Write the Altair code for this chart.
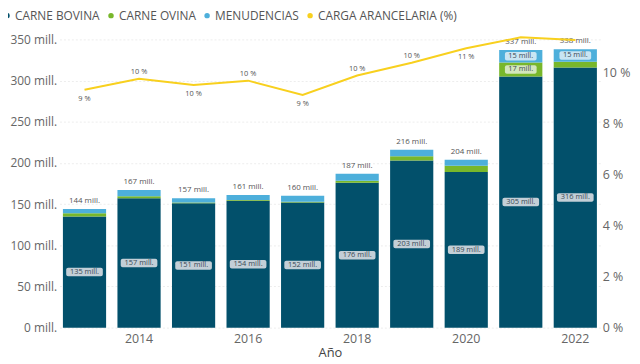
import altair as alt
import pandas as pd

years = [2013, 2014, 2015, 2016, 2017, 2018, 2019, 2020, 2021, 2022]
bovina = [135, 157, 151, 154, 152, 176, 203, 189, 305, 316]
ovina = [4, 2.5, 1, 1, 1, 2.5, 5, 7.5, 17, 7]
menudencias = [5, 7.5, 5, 6, 7, 8.5, 8, 7.5, 15, 15]
carga = [9.34, 9.77, 9.53, 9.7, 9.14, 9.9, 10.4, 10.97, 11.4, 11.3]

series = ["CARNE BOVINA", "CARNE OVINA", "MENUDENCIAS", "CARGA ARANCELARIA (%)"]
colors = ["#02506B", "#78B72B", "#4DAFDB", "#F8D01E"]
box_colors = ["#C3CFD7", "#D3E6BC", "#C9E5F3"]

rows = []
for i, y in enumerate(years):
    for k, (name, vals) in enumerate(zip(series[:3], [bovina, ovina, menudencias])):
        rows.append({"year": y, "serie": name, "orden": k, "valor": vals[i]})
df_bars = pd.DataFrame(rows)
df_tot = pd.DataFrame({"year": years,
                       "total": [b + o + m for b, o, m in zip(bovina, ovina, menudencias)]})
df_line = pd.DataFrame({"year": years, "carga": carga})

FONT = "Segoe UI, Open Sans, sans-serif"
PADL = 52
x_enc = alt.X("year:O", title="Año",
              scale=alt.Scale(paddingInner=0.208, paddingOuter=0.0625),
              axis=alt.Axis(labelExpr="datum.value % 2 == 0 ? datum.label : ''",
                            labelAngle=0, domain=False, ticks=False, labelFontSize=12.5,
                            labelColor="#666666", titleColor="#444444", titleFontSize=13,
                            titleFontWeight="normal", labelPadding=5, titlePadding=2,
                            labelFont=FONT, titleFont=FONT))

y_scale = alt.Scale(domain=[0, 350], nice=False)
y_axis = alt.Axis(values=[0, 50, 100, 150, 200, 250, 300, 350],
                  labelExpr="datum.value + ' mill.'", domain=False, ticks=False,
                  labelFontSize=12, labelColor="#666666", labelPadding=3,
                  gridColor="#ededed", gridDash=[2, 2], labelFont=FONT)

bars = alt.Chart(df_bars).mark_bar().encode(
    x=x_enc,
    y=alt.Y("valor:Q", stack="zero", scale=y_scale, axis=y_axis, title=None),
    color=alt.Color("serie:N", scale=alt.Scale(domain=series, range=colors),
                    legend=alt.Legend(title=None, orient="none", legendX=-PADL - 7, legendY=-30,
                                      direction="horizontal", symbolType="circle",
                                      symbolSize=30, labelFontSize=12, labelColor="#555555",
                                      columnPadding=5, symbolOffset=0, labelOffset=2,
                                      labelFont=FONT)),
    order=alt.Order("orden:Q"),
)

base_in = alt.Chart(df_bars).transform_window(
    cum="sum(valor)", groupby=["year"], sort=[alt.SortField("orden")],
    frame=[None, 0]
).transform_calculate(
    mid="datum.cum - datum.valor/2",
    lo="datum.cum - datum.valor/2 - 5.2",
    hi="datum.cum - datum.valor/2 + 5.2",
    txt="format(datum.valor, '.0f') + ' mill.'",
    bw="length(format(datum.valor, '.0f') + ' mill.') * 5 - 8",
).transform_filter("datum.orden == 0 || datum.valor >= 14")

boxes = base_in.mark_bar(cornerRadius=2).encode(
    x=alt.X("year:O"),
    y=alt.Y("lo:Q", scale=y_scale),
    y2="hi:Q",
    size=alt.Size("bw:Q", scale=None, legend=None),
    fill=alt.Fill("orden:N", scale=alt.Scale(domain=[0, 1, 2], range=box_colors), legend=None),
)

intext = base_in.mark_text(fontSize=7.5, color="#3a4a55", font=FONT, baseline="middle").encode(
    x=alt.X("year:O"),
    y=alt.Y("mid:Q", scale=y_scale),
    text="txt:N",
)

totals = alt.Chart(df_tot).transform_calculate(
    txt="format(datum.total, '.0f') + ' mill.'"
).mark_text(fontSize=8, color="#555555", dy=-8, baseline="middle", font=FONT).encode(
    x=alt.X("year:O"),
    y=alt.Y("total:Q", scale=y_scale),
    text="txt:N",
)

left = alt.layer(bars, boxes, intext, totals)

r_scale = alt.Scale(domain=[0, 11.32], nice=False)
line = alt.Chart(df_line).mark_line(color=colors[3], strokeWidth=2, clip=False).encode(
    x=alt.X("year:O"),
    y=alt.Y("carga:Q", scale=r_scale, title=None,
            axis=alt.Axis(orient="right", values=[0, 2, 4, 6, 8, 10],
                          labelExpr="datum.value + ' %'", domain=False, ticks=False,
                          grid=False, labelFontSize=12.5, labelColor="#666666",
                          labelPadding=2, labelFont=FONT)),
)

lab_base = alt.Chart(df_line).transform_calculate(
    txt="format(datum.carga, '.0f') + ' %'"
)
above = lab_base.transform_filter(
    alt.FieldOneOfPredicate(field="year", oneOf=[2014, 2016, 2018, 2019])
).mark_text(fontSize=7.5, color="#555555", dy=-7, baseline="middle", font=FONT).encode(
    x=alt.X("year:O"), y=alt.Y("carga:Q", scale=r_scale), text="txt:N")
below = lab_base.transform_filter(
    alt.FieldOneOfPredicate(field="year", oneOf=[2013, 2015, 2017, 2020])
).mark_text(fontSize=7.5, color="#555555", dy=9, baseline="middle", font=FONT).encode(
    x=alt.X("year:O"), y=alt.Y("carga:Q", scale=r_scale), text="txt:N")

right = alt.layer(line, above, below)

chart = alt.layer(left, right).resolve_scale(y="independent").properties(
    width=546, height=291,
    padding={"left": PADL, "top": 30, "right": 32, "bottom": 34},
    autosize=alt.AutoSizeParams(type="none"),
).configure_view(stroke=None)

chart.save("out.html", embed_options={"renderer": "svg", "actions": False})
